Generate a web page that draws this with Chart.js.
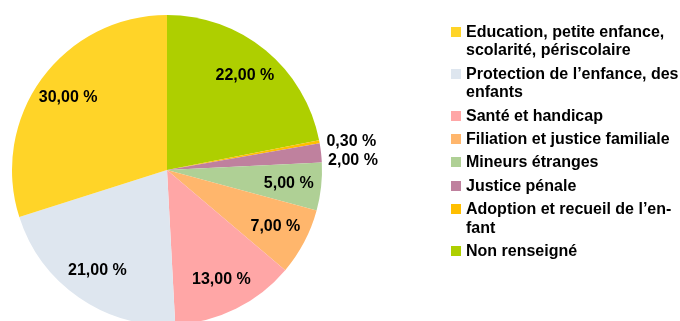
<!DOCTYPE html>
<html lang="fr">
<head>
<meta charset="utf-8">
<title>Répartition des saisines</title>
<script src="https://cdn.jsdelivr.net/npm/chart.js@4/dist/chart.umd.min.js"></script>
<style>
  html, body { margin: 0; padding: 0; background: #fff; }
  #wrap { position: relative; width: 680px; height: 321px; overflow: hidden; }
  #pie { position: absolute; left: 0; top: 0; }
  #legend {
    position: absolute; left: 451px; top: 23px;
    font: bold 16px "Liberation Sans", Arial, sans-serif;
    line-height: 18.4px; color: #000;
  }
  .item { display: flex; align-items: flex-start; margin-bottom: 5px; }
  .swatch { width: 10px; height: 10px; margin-top: 4px; margin-right: 5px; flex: none; }
</style>
</head>
<body>
<div id="wrap">
  <canvas id="pie" width="680" height="340"></canvas>
  <div id="legend"></div>
</div>
<script>
// categories, in legend order (each entry = the wrapped lines of the legend text)
const categories = [
  ['Education, petite enfance,', 'scolarité, périscolaire'],
  ['Protection de l\u2019enfance, des', 'enfants'],
  ['Santé et handicap'],
  ['Filiation et justice familiale'],
  ['Mineurs étranges'],
  ['Justice pénale'],
  ['Adoption et recueil de l\u2019en-', 'fant'],
  ['Non renseigné']
];
// share of each category, in %
const shares = [30, 21, 13, 7, 5, 2, 0.3, 22];

const colors = ['#ffd428', '#dee6ef', '#ffa6a6', '#ffb66c', '#afd095', '#bf819e', '#ffbf00', '#aecf00'];

// slices run counter-clockwise from 12 o'clock in legend order,
// so feed them to Chart.js (clockwise) in reverse
const order = shares.map((_, i) => i).reverse();

const fmt = v => v.toFixed(2).replace('.', ',') + ' %';

// value labels: inside the slice, or next to the rim for tiny slices
const sliceLabels = {
  id: 'sliceLabels',
  afterDatasetsDraw(chart) {
    const ctx = chart.ctx;
    const meta = chart.getDatasetMeta(0);
    const values = chart.data.datasets[0].data;
    ctx.save();
    ctx.font = 'bold 16px "Liberation Sans", Arial, sans-serif';
    ctx.fillStyle = '#000';
    ctx.textBaseline = 'middle';
    let lastOutsideY = -Infinity;
    meta.data.forEach((arc, i) => {
      const p = arc.getProps(['x', 'y', 'startAngle', 'endAngle', 'outerRadius'], true);
      const mid = (p.startAngle + p.endAngle) / 2;
      const v = values[i];
      if (v >= 3) {
        const r = p.outerRadius * 0.79;
        ctx.textAlign = 'center';
        ctx.fillText(fmt(v), p.x + Math.cos(mid) * r, p.y + Math.sin(mid) * r);
      } else {
        let y = p.y + Math.sin(mid) * p.outerRadius;
        if (y < lastOutsideY + 19) y = lastOutsideY + 19;
        lastOutsideY = y;
        ctx.textAlign = 'left';
        ctx.fillText(fmt(v), p.x + Math.cos(mid) * p.outerRadius + 7, y);
      }
    });
    ctx.restore();
  }
};

new Chart(document.getElementById('pie'), {
  type: 'pie',
  data: {
    labels: order.map(i => categories[i].join(' ')),
    datasets: [{
      data: order.map(i => shares[i]),
      backgroundColor: order.map(i => colors[i]),
      borderWidth: 0,
      radius: 155
    }]
  },
  options: {
    responsive: false,
    animation: false,
    devicePixelRatio: 1,
    layout: { padding: { left: 0, right: 346, top: 0, bottom: 0 } },
    plugins: {
      legend: { display: false },
      tooltip: { enabled: false }
    }
  },
  plugins: [sliceLabels]
});

// legend, built from the same arrays
const legendEl = document.getElementById('legend');
categories.forEach((lines, i) => {
  const item = document.createElement('div');
  item.className = 'item';
  const sw = document.createElement('span');
  sw.className = 'swatch';
  sw.style.background = colors[i];
  const txt = document.createElement('div');
  txt.innerHTML = lines.join('<br>');
  item.appendChild(sw);
  item.appendChild(txt);
  legendEl.appendChild(item);
});
</script>
</body>
</html>
